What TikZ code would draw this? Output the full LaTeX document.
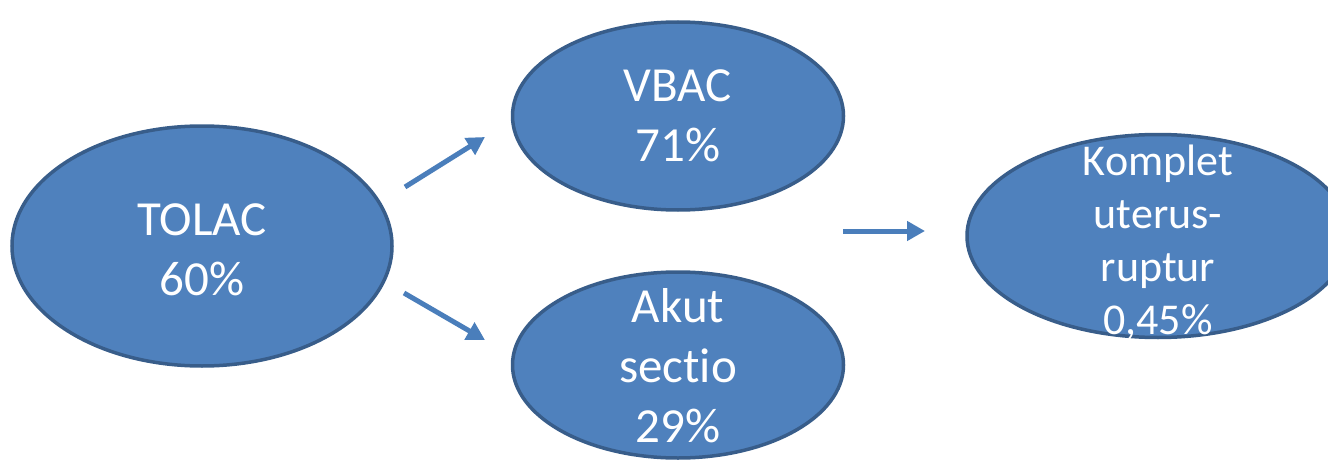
\documentclass[tikz,border=0pt]{standalone}
\usepackage{fontspec}
\setmainfont{Carlito}[RawFeature={-liga;-dlig;-clig}]
\usetikzlibrary{shapes.geometric,arrows.meta}
\definecolor{ellfill}{HTML}{4F81BD}
\definecolor{elldraw}{HTML}{385D8A}
\definecolor{arrcol}{HTML}{4A7EBB}
\tikzset{
  bubble/.style={ellipse, fill=ellfill, draw=elldraw, line width=3.5pt, inner sep=0pt},
  bubbletext/.style={text=white, align=center, inner sep=0pt, font=\fontsize{49}{60}\selectfont},
  smalltext/.style={bubbletext, font=\fontsize{44}{53}\selectfont},
  flow/.style={draw=arrcol, line width=5pt, -{Triangle[length=18pt,width=19pt]}}
}
\begin{document}
\begin{tikzpicture}[x=1pt,y=-1pt]
\useasboundingbox (0,0) rectangle (1328,460);
\clip (0,0) rectangle (1328,460);
\node[bubble, minimum width=380pt, minimum height=240pt] (tolac) at (202,246) {};
\node[bubble, minimum width=331pt, minimum height=188pt] (vbac) at (678,116) {};
\node[bubble, minimum width=331pt, minimum height=186pt] (akut) at (678,365) {};
\node[bubble, minimum width=382pt, minimum height=203pt] (rupt) at (1158,236) {};
\node[bubbletext] (tolact) at (202,250) {TOLAC\\60\%};
\node[bubbletext] (vbact) at (678,116) {VBAC\\71\%};
\node[bubbletext] (akutt) at (678,366) {Akut\\sectio\\29\%};
\node[smalltext] (ruptt) at (1158,243) {Komplet\\uterus-\\ruptur\\0,45\%};
\coordinate (a1s) at (405,187);
\coordinate (a1e) at (485,137);
\coordinate (a2s) at (404,293);
\coordinate (a2e) at (485,340);
\coordinate (a3s) at (843,231);
\coordinate (a3e) at (925,231);
\draw[flow] (a1s) -- (a1e);
\draw[flow] (a2s) -- (a2e);
\draw[flow] (a3s) -- (a3e);
\end{tikzpicture}
\end{document}
